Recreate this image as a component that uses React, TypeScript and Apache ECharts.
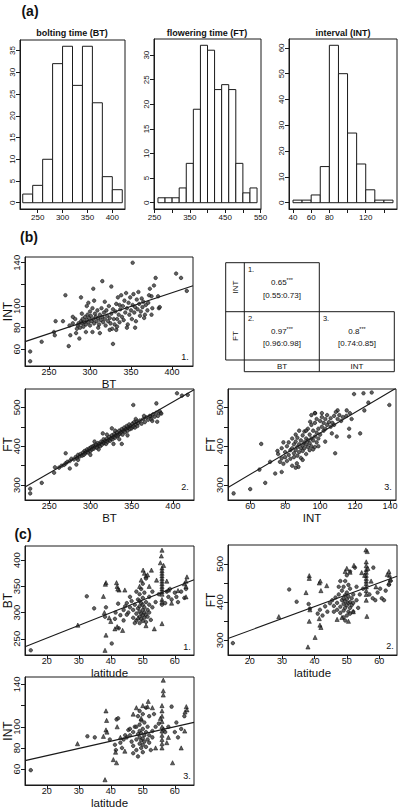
import React, { useEffect, useRef } from 'react';
import * as echarts from 'echarts';

const FONT = '"Liberation Sans", Arial, Helvetica, sans-serif';
const INK = '#1a1a1a';

// ---------- (a) histograms ----------
const btBreaks = [220, 240, 260, 280, 300, 320, 340, 360, 380, 400, 420];
const btCounts = [2, 4, 10, 32, 36, 27, 36, 23, 6, 3];
const ftBreaks = [260, 280, 300, 320, 340, 360, 380, 400, 420, 440, 460, 480, 500, 520, 540];
const ftCounts = [1, 1, 1, 3, 8, 19, 32, 31, 23, 24, 23, 8, 2, 3];
const intBreaks = [40, 50, 60, 70, 80, 90, 100, 110, 120, 130, 140, 150];
const intCounts = [1, 1, 3, 14, 61, 50, 27, 15, 5, 1, 1];

const histTitles = ['bolting time (BT)', 'flowering time (FT)', 'interval (INT)'];
const btHistXTicks = [250, 300, 350, 400];
const btHistYTicks = [0, 5, 10, 15, 20, 25, 30, 35];
const ftHistXTicks = [250, 300, 350, 400, 450, 500, 550];
const ftHistXLabels = [250, 350, 450, 550];
const ftHistYTicks = [0, 5, 10, 15, 20, 25, 30];
const intHistXTicks = [40, 60, 80, 100, 120, 140];
const intHistXLabels = [40, 60, 80, 120];
const intHistYTicks = [0, 10, 20, 30, 40, 50, 60];

// ---------- scatter tick values ----------
const btTicks = [250, 300, 350, 400];
const intTicks = [60, 80, 100, 120, 140];
const intYLabels = [60, 80, 100, 140];
const ftTicks = [300, 350, 400, 450, 500];
const ftLabels = [300, 400, 500];
const latTicks = [20, 30, 40, 50, 60];

// ---------- (b) scatter data ----------
const intVsBt = [
  [227, 58], [227, 49], [241, 67], [256, 76], [257, 73], [258, 86], [267, 86], [270, 110], [274, 63], [275, 82],
  [276, 73], [279, 90], [283, 75], [287, 70], [289, 108], [290, 93], [295, 76], [296, 100], [303, 76], [304, 116],
  [305, 105], [315, 123], [312, 75], [326, 118], [332, 78], [328, 65], [336, 101], [352, 140], [380, 126], [378, 119],
  [373, 116], [375, 109], [383, 109], [384, 98], [367, 92], [375, 92], [385, 99], [405, 130], [411, 126], [418, 114],
  [285, 82], [286, 84], [288, 80], [289, 86], [290, 84], [291, 88], [292, 81], [293, 85], [294, 90], [295, 83],
  [296, 87], [297, 92], [298, 85], [299, 89], [300, 95], [300, 82], [301, 91], [302, 86], [303, 98], [304, 88],
  [305, 84], [306, 93], [307, 90], [308, 86], [309, 96], [310, 89], [311, 83], [312, 92], [313, 87], [314, 98],
  [315, 90], [316, 85], [317, 94], [318, 88], [319, 82], [320, 96], [321, 91], [322, 86], [323, 100], [324, 89],
  [325, 84], [326, 93], [327, 79], [328, 97], [329, 88], [330, 83], [331, 95], [332, 102], [333, 88], [334, 108],
  [335, 92], [336, 85], [337, 97], [338, 110], [339, 90], [340, 100], [341, 87], [342, 105], [343, 94], [344, 112],
  [345, 98], [346, 83], [347, 103], [348, 92], [349, 108], [350, 96], [351, 88], [352, 101], [353, 111], [354, 94],
  [355, 99], [356, 86], [357, 106], [358, 97], [359, 113], [360, 102], [361, 91], [362, 95], [363, 107], [364, 99],
  [365, 104], [366, 89], [368, 101], [370, 96], [372, 110], [371, 103], [376, 98], [279, 84], [282, 88], [284, 79],
  [298, 103], [310, 80], [318, 104], [324, 78], [333, 81], [345, 80], [355, 80],
];

const ftVsBt = [
  [227, 291], [227, 279], [241, 306], [256, 332], [257, 346], [270, 382], [275, 343], [283, 353], [305, 412], [315, 433],
  [326, 446], [328, 406], [338, 406], [352, 506], [380, 510], [405, 536], [411, 530], [418, 532], [385, 485], [381, 463],
  [373, 476], [262, 345], [265, 350], [268, 352], [270, 356], [272, 360], [275, 362], [277, 368], [280, 366], [282, 372],
  [284, 370], [285, 378], [287, 374], [288, 380], [290, 376], [291, 384], [292, 378], [293, 388], [294, 382], [295, 386],
  [296, 392], [297, 384], [298, 390], [299, 395], [300, 388], [301, 398], [302, 392], [303, 400], [304, 394], [305, 402],
  [306, 398], [307, 404], [308, 396], [309, 408], [310, 402], [311, 406], [312, 400], [313, 412], [314, 404], [315, 410],
  [316, 418], [317, 408], [318, 414], [319, 406], [320, 420], [321, 412], [322, 416], [323, 424], [324, 414], [325, 420],
  [326, 428], [327, 418], [328, 424], [329, 432], [330, 422], [331, 428], [332, 436], [333, 426], [334, 430], [335, 440],
  [336, 432], [337, 436], [338, 444], [339, 430], [340, 440], [341, 448], [342, 436], [343, 444], [344, 452], [345, 440],
  [346, 448], [347, 456], [348, 444], [349, 452], [350, 446], [351, 458], [352, 450], [353, 462], [354, 448], [355, 456],
  [356, 464], [357, 452], [358, 460], [360, 466], [362, 458], [364, 470], [366, 462], [368, 474], [370, 468], [372, 478],
  [374, 470], [376, 482], [378, 476], [380, 486], [382, 478], [384, 490], [386, 484], [285, 365], [300, 378], [310, 392],
  [320, 430], [330, 440], [335, 418], [345, 428], [355, 470], [365, 478], [375, 465],
];

const ftVsInt = [
  [50.5, 279], [60, 290], [66.3, 406], [68.6, 306], [65.3, 340], [71.4, 360], [74.3, 330], [78, 334], [75.6, 388], [78, 369],
  [87.6, 347], [86.7, 356], [94.3, 463], [97.1, 485], [101, 485], [108.6, 382], [109.5, 425], [110, 492], [116.6, 445], [116.6, 425],
  [115.2, 492], [119.4, 534], [122.9, 433], [124.8, 536], [125.3, 492], [129.5, 538], [127.6, 512], [139.6, 506], [102.9, 412], [106.7, 433],
  [80, 372], [80, 385], [81, 400], [81, 362], [82, 378], [82, 410], [83, 390], [83, 368], [84, 420], [84, 395],
  [85, 382], [85, 405], [85, 372], [86, 430], [86, 390], [86, 412], [87, 398], [87, 376], [87, 422], [88, 405],
  [88, 385], [88, 440], [89, 395], [89, 415], [89, 370], [90, 428], [90, 402], [90, 388], [91, 410], [91, 438],
  [91, 395], [92, 420], [92, 380], [92, 405], [93, 445], [93, 398], [93, 415], [94, 390], [94, 430], [94, 408],
  [95, 420], [95, 400], [95, 455], [96, 392], [96, 440], [96, 415], [97, 460], [97, 425], [97, 398], [98, 470],
  [98, 435], [98, 410], [99, 445], [99, 420], [100, 465], [100, 430], [101, 450], [101, 475], [102, 440], [102, 460],
  [103, 470], [103, 445], [104, 455], [104, 480], [105, 462], [106, 450], [106, 472], [107, 460], [108, 478], [108, 455],
  [109, 488], [110, 470], [111, 480], [112, 465], [113, 475], [115, 478], [117, 485], [118, 470], [78, 395], [79, 410],
  [79, 355], [84, 350], [86, 345], [90, 365], [92, 440], [95, 480], [97, 485], [99, 400], [76, 380], [77, 360],
];

// ---------- (c) scatter data: circles / triangles ----------
const btLatCircles = [
  [15, 228], [32.5, 331], [34.8, 308], [38.2, 292], [38.5, 310], [40.3, 241], [41.3, 288], [42.3, 317], [41.5, 300], [43, 295],
  [44, 305], [44.5, 312], [45, 318], [45.5, 300], [46, 310], [46.5, 322], [47, 290], [47, 305], [47.5, 315], [48, 298],
  [48, 285], [48.5, 308], [48.5, 325], [49, 280], [49, 292], [49, 302], [49, 312], [49, 322], [49, 335], [49.5, 288],
  [49.5, 298], [49.5, 318], [49.5, 345], [50, 284], [50, 295], [50, 305], [50, 315], [50, 328], [50, 355], [50.5, 290],
  [50.5, 300], [50.5, 310], [50.5, 338], [51, 282], [51, 296], [51, 320], [51, 365], [51.5, 305], [51.5, 292], [52, 300],
  [52, 315], [52, 330], [52.5, 286], [53, 310], [53, 340], [54, 320], [55, 335], [56, 315], [57, 318], [57.5, 340],
  [58, 330], [58.5, 345], [59, 325], [60, 338], [60.5, 330], [61, 320], [62, 340], [63, 328], [63.5, 345], [48, 340],
  [46, 330], [44, 285], [42.5, 270], [47.5, 280], [45, 296],
];
const btLatTriangles = [
  [29.7, 276], [37.7, 331], [38.5, 357], [38.3, 354], [38.5, 257], [38.2, 228], [38, 300], [41.3, 269], [41.8, 357], [42, 350],
  [42.6, 343], [42.2, 345], [43.7, 266], [44.4, 343], [42, 273], [40, 283], [39.5, 290], [50.1, 381], [50.5, 375], [51, 370],
  [49.5, 362], [51.5, 372], [52.7, 381], [54.3, 362], [53.6, 269], [52, 350], [56, 419], [55.8, 408], [56, 385], [56, 380],
  [56, 375], [56, 370], [56, 365], [56, 360], [56, 355], [56, 350], [56, 345], [56, 340], [56, 335], [56, 325],
  [56, 320], [56, 279], [55.5, 395], [56.5, 390], [58, 343], [57.5, 360], [63.8, 368], [63.5, 360], [63.5, 350], [63.5, 330],
  [63, 355], [59, 318], [61, 342], [49, 350], [48.5, 290], [51, 275],
];
const ftLatCircles = [
  [14.8, 293], [32.2, 433], [34.5, 401], [38.2, 395], [38.6, 383], [41.7, 380], [43.3, 389], [44.8, 397], [41, 370], [42.5, 365],
  [45.5, 405], [46, 390], [46.5, 412], [47, 380], [47, 398], [47.5, 420], [48, 372], [48, 388], [48.5, 405], [48.5, 430],
  [49, 360], [49, 378], [49, 395], [49, 410], [49, 440], [49.5, 352], [49.5, 385], [49.5, 402], [49.5, 418], [49.5, 455],
  [50, 365], [50, 392], [50, 408], [50, 425], [50, 470], [50.5, 375], [50.5, 398], [50.5, 415], [50.5, 445], [51, 370],
  [51, 385], [51, 400], [51, 435], [51, 480], [51.5, 392], [51.5, 410], [52, 375], [52, 398], [52, 420], [52.5, 490],
  [53, 405], [53, 440], [54, 420], [55, 435], [57, 420], [58, 410], [58.2, 490], [58.8, 405], [59.5, 425], [60.3, 435],
  [60.8, 410], [61.5, 405], [62, 430], [63, 445], [63.5, 455], [47.5, 440], [46, 375], [48, 455], [44, 375], [53.5, 385],
];
const ftLatTriangles = [
  [29, 362], [37.4, 425], [38, 283], [38.4, 469], [38.4, 462], [38.4, 350], [38.6, 380], [40.2, 308], [41.5, 450], [41.8, 455],
  [41.5, 357], [41.7, 340], [42, 334], [43.8, 443], [42, 430], [52.2, 496], [54.6, 477], [55.9, 536], [56.3, 532], [56, 505],
  [56, 495], [56, 485], [56, 478], [56, 470], [56, 462], [56, 455], [56, 448], [56, 440], [56, 430], [56, 420],
  [56, 405], [56.2, 363], [55.5, 470], [56.5, 488], [49.5, 480], [50, 488], [51, 478], [48.5, 360], [47, 355], [63, 480],
  [63.2, 470], [63.5, 460], [63, 450], [62.5, 472], [59, 440], [57.5, 455], [50.5, 350], [52, 375],
];
const intLatCircles = [
  [15, 59], [32.7, 91], [35, 90], [39.7, 88], [41.3, 83], [41.6, 78], [41.8, 107], [42.3, 108], [45.5, 97], [43, 85],
  [44, 88], [45, 90], [46, 92], [46.5, 86], [47, 95], [47, 82], [47.5, 100], [48, 88], [48, 78], [48.5, 93],
  [48.5, 110], [49, 84], [49, 90], [49, 96], [49, 102], [49, 115], [49.5, 80], [49.5, 87], [49.5, 94], [49.5, 106],
  [50, 83], [50, 89], [50, 98], [50, 112], [50.5, 86], [50.5, 92], [50.5, 104], [51, 81], [51, 95], [51, 118],
  [51.5, 88], [51.5, 100], [52, 85], [52, 92], [52, 110], [53, 90], [53, 96], [54, 100], [55, 103], [57, 95],
  [58, 100], [59, 119], [60.5, 104], [60, 95], [61, 90], [62, 98], [63, 110], [47, 75], [46, 98], [48, 100],
  [52.5, 78], [53.5, 112], [44.5, 92], [43.5, 80], [50, 76], [48.5, 72],
];
const intLatTriangles = [
  [29.6, 84], [37.7, 91], [38.5, 115], [38.7, 106], [38.5, 97], [38.8, 95], [38.2, 50], [40.8, 69], [41.8, 66], [42, 100],
  [41.5, 76], [43, 90], [44.4, 77], [51.7, 124], [51.5, 119], [53, 118], [56.4, 144], [56.4, 134], [56.4, 130], [56, 120],
  [56, 115], [56, 110], [56, 105], [56, 100], [56, 96], [56, 92], [56, 88], [56, 84], [56, 80], [55.5, 108],
  [56.5, 98], [59.3, 66], [62, 80], [63.6, 119], [63.2, 114], [63.8, 116], [63.1, 96], [58, 90], [48, 118], [50, 120],
  [49.5, 108], [54, 80], [57.5, 85], [47, 112],
];

// regression lines [intercept, slope]
const fitIntBt = [11.5, 0.252];
const fitFtBt = [26, 1.22];
const fitFtInt = [169, 2.65];
const fitBtLat = [203, 2.42];
const fitFtLat = [263.6, 3.11];
const fitIntLat = [59, 0.684];

// correlation table
const corrLabels = ['1.', '2.', '3.'];
const corrValues = ['0.65', '0.97', '0.8'];
const corrCI = ['[0.55:0.73]', '[0.96:0.98]', '[0.74:0.85]'];
const corrRowNames = ['INT', 'FT'];
const corrColNames = ['BT', 'INT'];

function buildOption() {
  const grids = [
    { left: 20, top: 40, width: 105, height: 169 },
    { left: 154, top: 39, width: 107, height: 170 },
    { left: 289, top: 39, width: 108, height: 170 },
    { left: 25, top: 257, width: 168, height: 109 },
    { left: 25, top: 389, width: 169, height: 111 },
    { left: 228, top: 389, width: 168, height: 111 },
    { left: 25, top: 546, width: 169, height: 109 },
    { left: 228, top: 545, width: 169, height: 110 },
    { left: 25, top: 677, width: 169, height: 108 },
  ].map((g) => ({
    ...g,
    show: true,
    borderColor: INK,
    borderWidth: 1,
    backgroundColor: 'transparent',
    containLabel: false,
    outerBoundsMode: 'none',
  }));

  const axis = (
    gridIndex: number,
    min: number,
    max: number,
    ticks: number[],
    labels: number[],
    isY: boolean,
    fontSize: number,
    name?: string
  ) => {
    const namedX = !isY && !!name;
    return {
      type: 'value',
      gridIndex,
      min,
      max,
      position: isY ? 'left' : 'bottom',
      axisLine: { show: true, onZero: false, lineStyle: { color: INK, width: 1 } },
      axisTick: { show: true, length: 4, customValues: ticks, lineStyle: { color: INK, width: 1 } },
      axisLabel: {
        show: true,
        customValues: labels,
        fontSize: namedX ? 9 : fontSize,
        color: '#111',
        fontFamily: FONT,
        margin: isY ? 4 : namedX ? 1 : 4,
        rotate: isY ? 90 : 0,
        hideOverlap: false,
      },
      splitLine: { show: false },
      name: name || '',
      nameLocation: 'middle',
      nameGap: isY ? 11 : 12,
      nameRotate: isY ? 90 : 0,
      nameMoveOverlap: false,
      nameTextStyle: { fontSize: namedX ? 11.5 : 12, color: '#111', fontFamily: FONT },
    };
  };

  const xAxis = [
    axis(0, 214.5, 425.5, btHistXTicks, btHistXTicks, false, 8),
    axis(1, 248.8, 551.2, ftHistXTicks, ftHistXLabels, false, 8),
    axis(2, 35.6, 154.4, intHistXTicks, intHistXLabels, false, 8),
    axis(3, 220.7, 425.6, btTicks, btTicks, false, 9.5, 'BT'),
    axis(4, 220.7, 425.6, btTicks, btTicks, false, 9.5, 'BT'),
    axis(5, 47.3, 143.4, intTicks, intTicks, false, 9.5, 'INT'),
    axis(6, 13.2, 66, latTicks, latTicks, false, 9.5, 'latitude'),
    axis(7, 13.3, 65.5, latTicks, latTicks, false, 9.5, 'latitude'),
    axis(8, 13.2, 66, latTicks, latTicks, false, 9.5, 'latitude'),
  ];
  const yAxis = [
    axis(0, -1.44, 37.44, btHistYTicks, btHistYTicks, true, 8),
    axis(1, -1.28, 33.28, ftHistYTicks, ftHistYTicks, true, 8),
    axis(2, -2.44, 63.44, intHistYTicks, intHistYTicks, true, 8),
    axis(3, 44.6, 145.3, intTicks, intYLabels, true, 9.5, 'INT'),
    axis(4, 262, 547, ftTicks, ftLabels, true, 9.5, 'FT'),
    axis(5, 262, 547, ftTicks, ftLabels, true, 9.5, 'FT'),
    axis(6, 219, 427, btTicks, btTicks, true, 9.5, 'BT'),
    axis(7, 262, 549, ftTicks, ftLabels, true, 9.5, 'FT'),
    axis(8, 45, 147, intTicks, intYLabels, true, 9.5, 'INT'),
  ];

  const histSeries = (idx: number, breaks: number[], counts: number[]) => ({
    type: 'custom',
    xAxisIndex: idx,
    yAxisIndex: idx,
    silent: true,
    encode: { x: [0, 1], y: 2 },
    data: counts.map((c, i) => [breaks[i], breaks[i + 1], c]),
    renderItem: (params: any, api: any) => {
      const p0 = api.coord([api.value(0), 0]);
      const p1 = api.coord([api.value(1), api.value(2)]);
      return {
        type: 'rect',
        shape: { x: p0[0], y: p1[1], width: p1[0] - p0[0], height: p0[1] - p1[1] },
        style: { fill: '#fff', stroke: INK, lineWidth: 1 },
      };
    },
  });

  const pts = (idx: number, data: number[][], symbol: string) => ({
    type: 'scatter',
    xAxisIndex: idx,
    yAxisIndex: idx,
    silent: true,
    symbol,
    symbolSize: symbol === 'triangle' ? 4.2 : 3.6,
    itemStyle: { color: '#3a3a3a', borderColor: '#000', borderWidth: 0.6 },
    data,
  });

  const fit = (idx: number, coef: number[], x0: number, x1: number) => ({
    type: 'line',
    xAxisIndex: idx,
    yAxisIndex: idx,
    silent: true,
    clip: true,
    symbol: 'none',
    lineStyle: { color: INK, width: 1.1 },
    data: [
      [x0, coef[0] + coef[1] * x0],
      [x1, coef[0] + coef[1] * x1],
    ],
  });

  const series: any[] = [
    histSeries(0, btBreaks, btCounts),
    histSeries(1, ftBreaks, ftCounts),
    histSeries(2, intBreaks, intCounts),
    pts(3, intVsBt, 'circle'),
    fit(3, fitIntBt, 220.7, 425.6),
    pts(4, ftVsBt, 'circle'),
    fit(4, fitFtBt, 220.7, 425.6),
    pts(5, ftVsInt, 'circle'),
    fit(5, fitFtInt, 47.3, 143.4),
    pts(6, btLatCircles, 'circle'),
    pts(6, btLatTriangles, 'triangle'),
    fit(6, fitBtLat, 13.2, 66),
    pts(7, ftLatCircles, 'circle'),
    pts(7, ftLatTriangles, 'triangle'),
    fit(7, fitFtLat, 13.3, 65.5),
    pts(8, intLatCircles, 'circle'),
    pts(8, intLatTriangles, 'triangle'),
    fit(8, fitIntLat, 13.2, 66),
  ];

  const txt = (x: number, y: number, text: string, fontSize: number, extra: any = {}) => ({
    type: 'text',
    x,
    y,
    silent: true,
    ...extra,
    style: {
      text,
      fontSize,
      fontFamily: FONT,
      fill: '#111',
      align: 'center',
      verticalAlign: 'middle',
      ...(extra.style || {}),
    },
  });
  const ln = (x1: number, y1: number, x2: number, y2: number) => ({
    type: 'line',
    silent: true,
    shape: { x1, y1, x2, y2 },
    style: { stroke: INK, lineWidth: 1 },
  });

  const starText = (x: number, y: number, v: string) => ({
    type: 'text',
    x,
    y,
    silent: true,
    style: {
      text: `{v|${v}}{s|***}`,
      align: 'center',
      verticalAlign: 'middle',
      fill: '#111',
      rich: {
        v: { fontSize: 8, fontFamily: FONT, fill: '#111' },
        s: { fontSize: 5.5, fontFamily: FONT, fill: '#111', padding: [0, 0, 4, 0] },
      },
    },
  });

  const graphic: any[] = [
    txt(30, 11, '(a)', 14, { style: { fontWeight: 'bold' } }),
    txt(29, 237, '(b)', 14, { style: { fontWeight: 'bold' } }),
    txt(23, 534, '(c)', 14, { style: { fontWeight: 'bold' } }),
    txt(72, 33, histTitles[0], 9, { style: { fontWeight: 'bold' } }),
    txt(207, 33, histTitles[1], 9, { style: { fontWeight: 'bold' } }),
    txt(343, 33, histTitles[2], 9, { style: { fontWeight: 'bold' } }),
    txt(185, 357, '1.', 9),
    txt(185, 487, '2.', 9),
    txt(388, 487, '3.', 9),
    txt(187, 647, '1.', 9),
    txt(390, 646, '2.', 9),
    txt(187, 776, '3.', 9),
    // correlation table
    ln(225.7, 262.7, 319.3, 262.7),
    ln(225.7, 311.7, 394.3, 311.7),
    ln(225.7, 360, 394.3, 360),
    ln(244.3, 371.7, 394.3, 371.7),
    ln(225.7, 262.7, 225.7, 360),
    ln(244.3, 262.7, 244.3, 371.7),
    ln(319.3, 262.7, 319.3, 371.7),
    ln(394.3, 311.7, 394.3, 371.7),
    txt(251, 269, corrLabels[0], 7.5),
    starText(282, 282, corrValues[0]),
    txt(282, 295, corrCI[0], 8),
    txt(251, 318, corrLabels[1], 7.5),
    starText(282, 331, corrValues[1]),
    txt(282, 343.5, corrCI[1], 8),
    txt(326, 318, corrLabels[2], 7.5),
    starText(357, 331, corrValues[2]),
    txt(357, 343.5, corrCI[2], 8),
    txt(235, 287, corrRowNames[0], 8, { rotation: Math.PI / 2 }),
    txt(235, 336, corrRowNames[1], 8, { rotation: Math.PI / 2 }),
    txt(282, 366, corrColNames[0], 8),
    txt(357, 366, corrColNames[1], 8),
  ];

  return {
    animation: false,
    backgroundColor: '#fff',
    textStyle: { fontFamily: FONT },
    grid: grids,
    xAxis,
    yAxis,
    series,
    graphic,
  };
}

export default function App() {
  const ref = useRef<HTMLDivElement>(null);
  useEffect(() => {
    if (!ref.current) return;
    const chart = echarts.init(ref.current, null, { renderer: 'svg' });
    chart.setOption(buildOption() as any);
    return () => chart.dispose();
  }, []);
  return (
    <div
      ref={ref}
      style={{ position: 'fixed', left: 0, top: 0, width: 400, height: 809, background: '#fff' }}
    />
  );
}
